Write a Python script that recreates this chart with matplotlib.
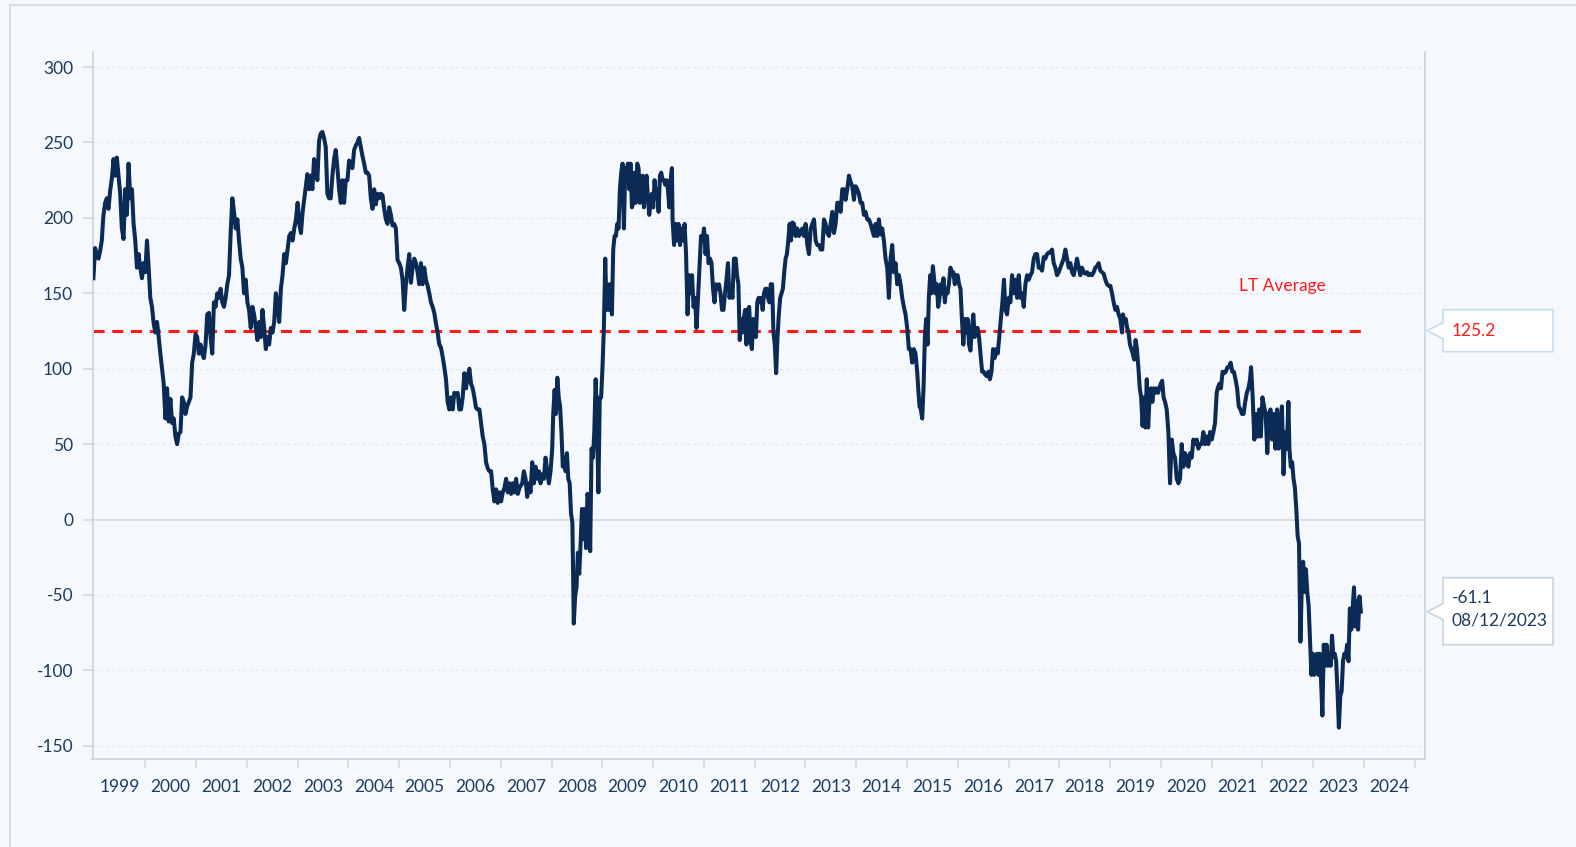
import matplotlib

matplotlib.use("Agg")
import matplotlib.pyplot as plt
import numpy as np
from matplotlib.lines import Line2D
from matplotlib.patches import Polygon
from matplotlib.transforms import IdentityTransform

# Readings are evenly spaced inside each span (decimal years).
span_a = (1998.978, 2003.131)
vals_a = [160, 180, 176, 173, 178, 185, 202, 210, 213, 206,
          218, 226, 239, 228, 240, 228, 216, 193, 186, 219,
          202, 236, 213, 219, 196, 185, 167, 176, 167, 160,
          170, 164, 185, 167, 147, 141, 130, 124, 131, 121,
          110, 100, 90, 67, 87, 65, 80, 64, 67, 55,
          50, 57, 58, 81, 78, 70, 75, 78, 81, 104,
          110, 123, 121, 110, 116, 110, 107, 116, 136, 137,
          121, 110, 144, 141, 150, 147, 153, 144, 141, 147,
          156, 162, 190, 213, 204, 193, 199, 185, 173, 167,
          150, 159, 144, 139, 127, 141, 136, 127, 119, 131,
          121, 139, 127, 113, 121, 116, 127, 124, 131, 150,
          141, 131, 153, 162, 176, 170, 179, 188, 190, 185,
          193, 199, 210, 196, 190, 204, 213]

span_b = (2003.191, 2007.368)
vals_b = [229, 219, 228, 219, 239, 233, 225, 251, 256, 257,
          253, 247, 216, 213, 213, 228, 239, 245, 233, 219,
          210, 225, 210, 225, 225, 238, 236, 233, 245, 248,
          250, 253, 247, 241, 236, 230, 230, 228, 213, 206,
          219, 209, 216, 213, 216, 215, 206, 199, 196, 207,
          202, 195, 196, 193, 172, 170, 167, 159, 139, 156,
          167, 176, 157, 167, 173, 170, 164, 156, 170, 156,
          167, 159, 155, 150, 144, 141, 137, 130, 124, 116,
          114, 108, 101, 93, 78, 73, 81, 73, 84, 83,
          84, 73, 73, 81, 97, 87, 95, 100, 90, 87,
          81, 74, 73, 73, 64, 55, 50, 38, 34, 32,
          32, 20, 12, 20, 11, 18, 12, 18, 21, 27,
          18, 24, 17, 24, 18, 27, 17, 21]

span_c1 = (2007.422, 2008.013)
vals_c1 = [24, 32, 27, 15, 24, 18, 38, 24, 35, 27,
           32, 24, 30, 27, 41, 32, 24, 32, 47]

span_c2 = (2008.033, 2009.057)
vals_c2 = [70, 86, 70, 94, 81, 75, 58, 35, 41, 32,
           44, 27, 24, 4, -2, -69, -51, -45, -22, -36,
           -16, 7, -13, 7, -19, 17, 12, -21, 47, 41,
           58, 93, 64, 18, 81, 81, 101, 127, 173]

span_c3 = (2009.083, 2010.370)
vals_c3 = [139, 156, 139, 156, 136, 179, 188, 188, 196, 193,
           219, 230, 236, 193, 233, 230, 236, 219, 236, 207,
           210, 230, 210, 236, 233, 210, 216, 228, 207, 219,
           228, 213, 202, 210, 216, 207, 225, 213, 219, 204,
           228, 230, 225, 225, 222, 225, 219, 207, 225, 233]

span_c4 = (2010.383, 2011.592)
vals_c4 = [199, 182, 196, 185, 196, 182, 193, 185, 196, 176,
           136, 162, 150, 162, 141, 147, 127, 147, 167, 188,
           185, 193, 176, 188, 170, 173, 170, 153, 144, 156,
           153, 156, 150, 139, 139, 150, 159, 170, 147, 153,
           147, 173]

span_d1 = (2011.626, 2012.741)
vals_d1 = [173, 162, 156, 119, 133, 124, 133, 139, 116, 139,
           141, 119, 113, 133, 124, 121, 144, 147, 144, 147,
           139, 150, 153, 153, 147, 144, 156, 156, 124, 116,
           97, 121, 136, 147, 150, 153, 164, 173, 176, 185,
           196, 185, 197]

span_d2 = (2012.774, 2015.200)
vals_d2 = [196, 188, 193, 188, 190, 193, 188, 196, 182, 176,
           193, 196, 199, 185, 182, 182, 179, 179, 199, 196,
           190, 188, 196, 204, 190, 196, 210, 210, 204, 219,
           219, 212, 219, 228, 224, 221, 212, 221, 219, 216,
           210, 210, 202, 204, 199, 199, 196, 192, 188, 196,
           188, 199, 189, 193, 185, 173, 167, 147, 173, 182,
           164, 170, 156, 162, 156, 147, 141, 136, 127, 113,
           113, 104, 113, 110, 98]

span_d3 = (2015.220, 2015.823)
vals_d3 = [87, 75, 73, 67, 87, 121, 133, 116, 147, 162,
           150, 168, 159, 150, 156, 141, 147, 156, 150, 160,
           144, 153, 150, 156]

span_e1 = (2015.856, 2016.446)
vals_e1 = [167, 162, 164, 156, 162, 162, 156, 153, 133, 116,
           133, 124, 133, 116, 112, 127, 136, 121, 127, 127,
           121, 110]

span_e2 = (2016.479, 2016.970)
vals_e2 = [98, 98, 96, 95, 98, 93, 98, 113, 107, 113,
           110, 121, 133, 144, 159, 139, 136]

span_e3 = (2017.003, 2019.233)
vals_e3 = [147, 144, 162, 150, 159, 147, 162, 147, 150, 141,
           156, 162, 159, 162, 164, 173, 176, 176, 167, 167,
           165, 174, 173, 176, 177, 177, 179, 170, 167, 162,
           164, 167, 170, 173, 179, 173, 167, 170, 164, 162,
           167, 173, 167, 162, 167, 164, 163, 164, 162, 163,
           162, 164, 167, 168, 170, 165, 164, 163, 159, 156,
           155, 155, 150, 144, 139, 141, 136, 133, 124]

span_e4 = (2019.252, 2020.052)
vals_e4 = [136, 131, 133, 127, 124, 116, 113, 110, 106, 119,
           113, 101, 87, 81, 62, 81, 61, 93, 61, 81,
           87, 78, 87, 84, 87, 84, 87, 90, 92, 81]

span_f1 = (2020.081, 2021.098)
vals_f1 = [78, 73, 58, 24, 53, 44, 41, 27, 24, 27,
           50, 35, 44, 41, 35, 44, 41, 53, 50, 53,
           47, 50, 50, 58, 50, 55, 50, 58, 53, 58,
           64, 84]

span_f2 = (2021.118, 2021.755)
vals_f2 = [87, 90, 87, 98, 97, 98, 101, 101, 104, 98,
           98, 93, 87, 75, 73, 70, 70, 78, 84, 87, 93]

span_f3 = (2021.775, 2022.510)
vals_f3 = [101, 81, 53, 70, 55, 73, 55, 81, 75, 70,
           44, 70, 73, 53, 70, 47, 73, 47, 64, 75,
           30, 58, 47, 78]

span_f4 = (2022.530, 2023.937)
vals_f4 = [47, 35, 38, 27, 21, 7, -11, -16, -81, -45,
           -28, -48, -33, -48, -57, -80, -103, -89, -103, -100,
           -89, -103, -89, -106, -130, -83, -97, -83, -97, -89,
           -97, -77, -91, -89, -94, -114, -138, -117, -114, -94,
           -89, -91, -83, -94, -59, -73, -59, -45, -71, -54,
           -73, -51, -61.1]

LT_AVG = 125.2
LAST_DATE = "08/12/2023"
years = list(range(1999, 2025))
y_ticks = list(range(-150, 301, 50))

NAVY = "#0b2a55"
RED = "#ff1a1a"
TEXT = "#1d3a5f"
AXIS_GREY = "#cdd6df"
BG = "#f5f9fd"

plt.rcParams["font.family"] = ["Lato", "DejaVu Sans"]
plt.rcParams["lines.scale_dashes"] = False

segments = [(span_a, vals_a), (span_b, vals_b), (span_c1, vals_c1),
            (span_c2, vals_c2), (span_c3, vals_c3), (span_c4, vals_c4),
            (span_d1, vals_d1), (span_d2, vals_d2), (span_d3, vals_d3),
            (span_e1, vals_e1), (span_e2, vals_e2), (span_e3, vals_e3),
            (span_e4, vals_e4), (span_f1, vals_f1), (span_f2, vals_f2),
            (span_f3, vals_f3), (span_f4, vals_f4)]
x = np.concatenate([np.linspace(a, b, len(v)) for (a, b), v in segments])
y = np.concatenate([np.asarray(v, dtype=float) for _, v in segments])

W, H = 1576, 847
fig = plt.figure(figsize=(W / 100, H / 100), dpi=100)
fig.patch.set_facecolor(BG)
ax = fig.add_axes([92.5 / W, 88 / H, 1332.5 / W, 707 / H])
ax.set_facecolor(BG)

# panel frame (only left and top edges are inside the picture)
fig.add_artist(Line2D([9.5 / W, 9.5 / W], [0, 1 - 5.5 / H], transform=fig.transFigure,
                      color="#cfdae5", lw=1.3))
fig.add_artist(Line2D([9.5 / W, 1], [1 - 5.5 / H, 1 - 5.5 / H], transform=fig.transFigure,
                      color="#cfdae5", lw=1.3))

ax.set_xlim(1998.96, 2025.2)
ax.set_ylim(-158.8, 310)

ax.set_yticks(y_ticks)
ax.set_yticklabels([str(v) for v in y_ticks])
ax.grid(axis="y", color="#e0e6ec", lw=0.8, linestyle=(0, (2, 2.5)))
ax.axhline(0, color="#cfd6de", lw=1.1, zorder=1)

ax.set_xticks([yr + 1 for yr in years])
ax.set_xticklabels([])
ax.set_xticks([yr + 0.5 for yr in years], minor=True)
ax.set_xticklabels([str(yr) for yr in years], minor=True)
ax.tick_params(axis="x", which="major", length=6.5, width=1.1, color=AXIS_GREY)
ax.tick_params(axis="x", which="minor", length=0, pad=14.5, labelsize=12.5, labelcolor=TEXT)
ax.tick_params(axis="y", length=7, width=1.1, color=AXIS_GREY, pad=7,
               labelsize=12.5, labelcolor=TEXT)

for side in ["left", "bottom", "right"]:
    ax.spines[side].set_color(AXIS_GREY)
    ax.spines[side].set_linewidth(1.3)
ax.spines["top"].set_visible(False)

ax.plot([x[0], x[-1]], [LT_AVG, LT_AVG], color=RED, lw=2.2, dashes=(8, 5.5), zorder=2)
ax.plot(x, y, color=NAVY, lw=2.9, solid_joinstyle="round", zorder=3)
ax.text(2022.4, 154.6, "LT Average", color=RED, fontsize=12.5, ha="center", va="center")


def callout(value, lines, color, edge, up, down, text_dy):
    fig.canvas.draw()
    px, py = ax.transAxes.transform((1, 0))[0], ax.transData.transform((0, value))[1]
    tip = px + 2
    verts = [(tip, py), (tip + 16, py + 8), (tip + 16, py + up), (tip + 126, py + up),
             (tip + 126, py - down), (tip + 16, py - down), (tip + 16, py - 8)]
    fig.add_artist(Polygon(verts, closed=True, facecolor="white", edgecolor=edge,
                           lw=1.2, transform=IdentityTransform()))
    inv = fig.transFigure.inverted()
    for i, line in enumerate(lines):
        fx, fy = inv.transform((tip + 25, py + text_dy - i * 23))
        fig.text(fx, fy, line, color=color, fontsize=12.5, ha="left", va="center")


callout(LT_AVG, [f"{LT_AVG:.1f}"], RED, "#c6dcee", 21, 21, 0)
callout(y[-1], [f"{y[-1]:.1f}", LAST_DATE], TEXT, "#c9d3dd", 34, 33, 14)

fig.savefig("out.png", dpi=100, facecolor=BG)
